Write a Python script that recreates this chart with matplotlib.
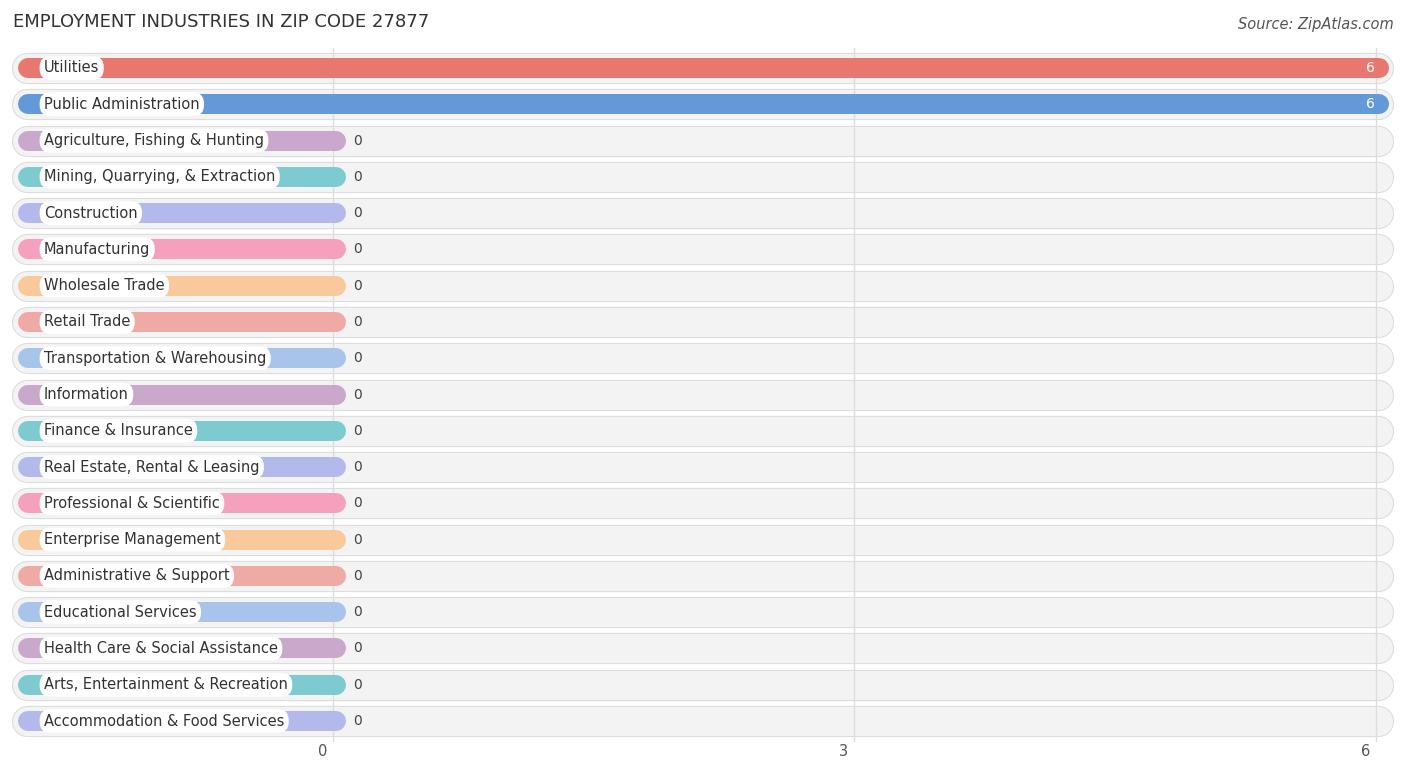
import matplotlib.pyplot as plt

categories = ["Utilities", "Public Administration", "Agriculture, Fishing & Hunting",
              "Mining, Quarrying, & Extraction", "Construction", "Manufacturing",
              "Wholesale Trade", "Retail Trade", "Transportation & Warehousing",
              "Information", "Finance & Insurance", "Real Estate, Rental & Leasing",
              "Professional & Scientific", "Enterprise Management",
              "Administrative & Support", "Educational Services",
              "Health Care & Social Assistance", "Arts, Entertainment & Recreation",
              "Accommodation & Food Services"]
values = [6, 6, 0, 0, 0, 0, 0, 0, 0, 0, 0, 0, 0, 0, 0, 0, 0, 0, 0]
palette = ["#e8776f", "#6499d9", "#c9a8cc", "#7dcbd0", "#b3b9ea", "#f5a1bd",
           "#f9c99b", "#f0aaa6", "#a8c4ea"]
colors = palette + palette[2:] + palette[2:5]
ticks = [0, 3, 6]

W, H = 1406, 776
PX = 173.8          # pixels per unit
X0 = 333            # pixel of value 0
Y0, DY = 68, 36.28  # first row centre, row spacing

fig = plt.figure(figsize=(W / 100, H / 100), dpi=100)
ax = fig.add_axes([0, 0, 1, 1])
ax.set_xlim(-X0 / PX, (W - X0) / PX)
ax.set_ylim((H - Y0) / DY, -Y0 / DY)
ax.axis("off")

def px(p):
    return (p - X0) / PX

for t in ticks:
    ax.plot([t, t], [-0.55, 18.55], color="#dddddd", lw=1, zorder=1)
    ax.text(t - 0.06, 18.85, str(t), ha="center", va="center", fontsize=10.5, color="#555555")

for i, (cat, v, c) in enumerate(zip(categories, values, colors)):
    # background pill
    ax.plot([px(27), px(1378)], [i, i], color="#dcdcdc", lw=22.5, solid_capstyle="round", zorder=0)
    ax.plot([px(27), px(1378)], [i, i], color="#f3f3f3", lw=21, solid_capstyle="round", zorder=0)
    # bar
    ax.plot([px(28), v + px(336)], [i, i], color=c, lw=14.4, solid_capstyle="round", zorder=2)
    ax.text(px(44), i, cat, ha="left", va="center", fontsize=10.5, color="#333333", zorder=4,
            bbox=dict(boxstyle="round,pad=0.3,rounding_size=0.75", fc="white", ec="none"))
    if v > 0:
        ax.text(px(1375), i, str(v), ha="right", va="center", fontsize=10, color="white", zorder=5)
    else:
        ax.text(px(353), i, str(v), ha="left", va="center", fontsize=10, color="#444444", zorder=5)

fig.text(13 / W, 1 - 22 / H, "EMPLOYMENT INDUSTRIES IN ZIP CODE 27877", ha="left", va="center",
         fontsize=13, color="#333333")
fig.text(1 - 12 / W, 1 - 24 / H, "Source: ZipAtlas.com", ha="right", va="center",
         fontsize=10.5, color="#555555", style="italic")

fig.savefig("out.png", dpi=100)
